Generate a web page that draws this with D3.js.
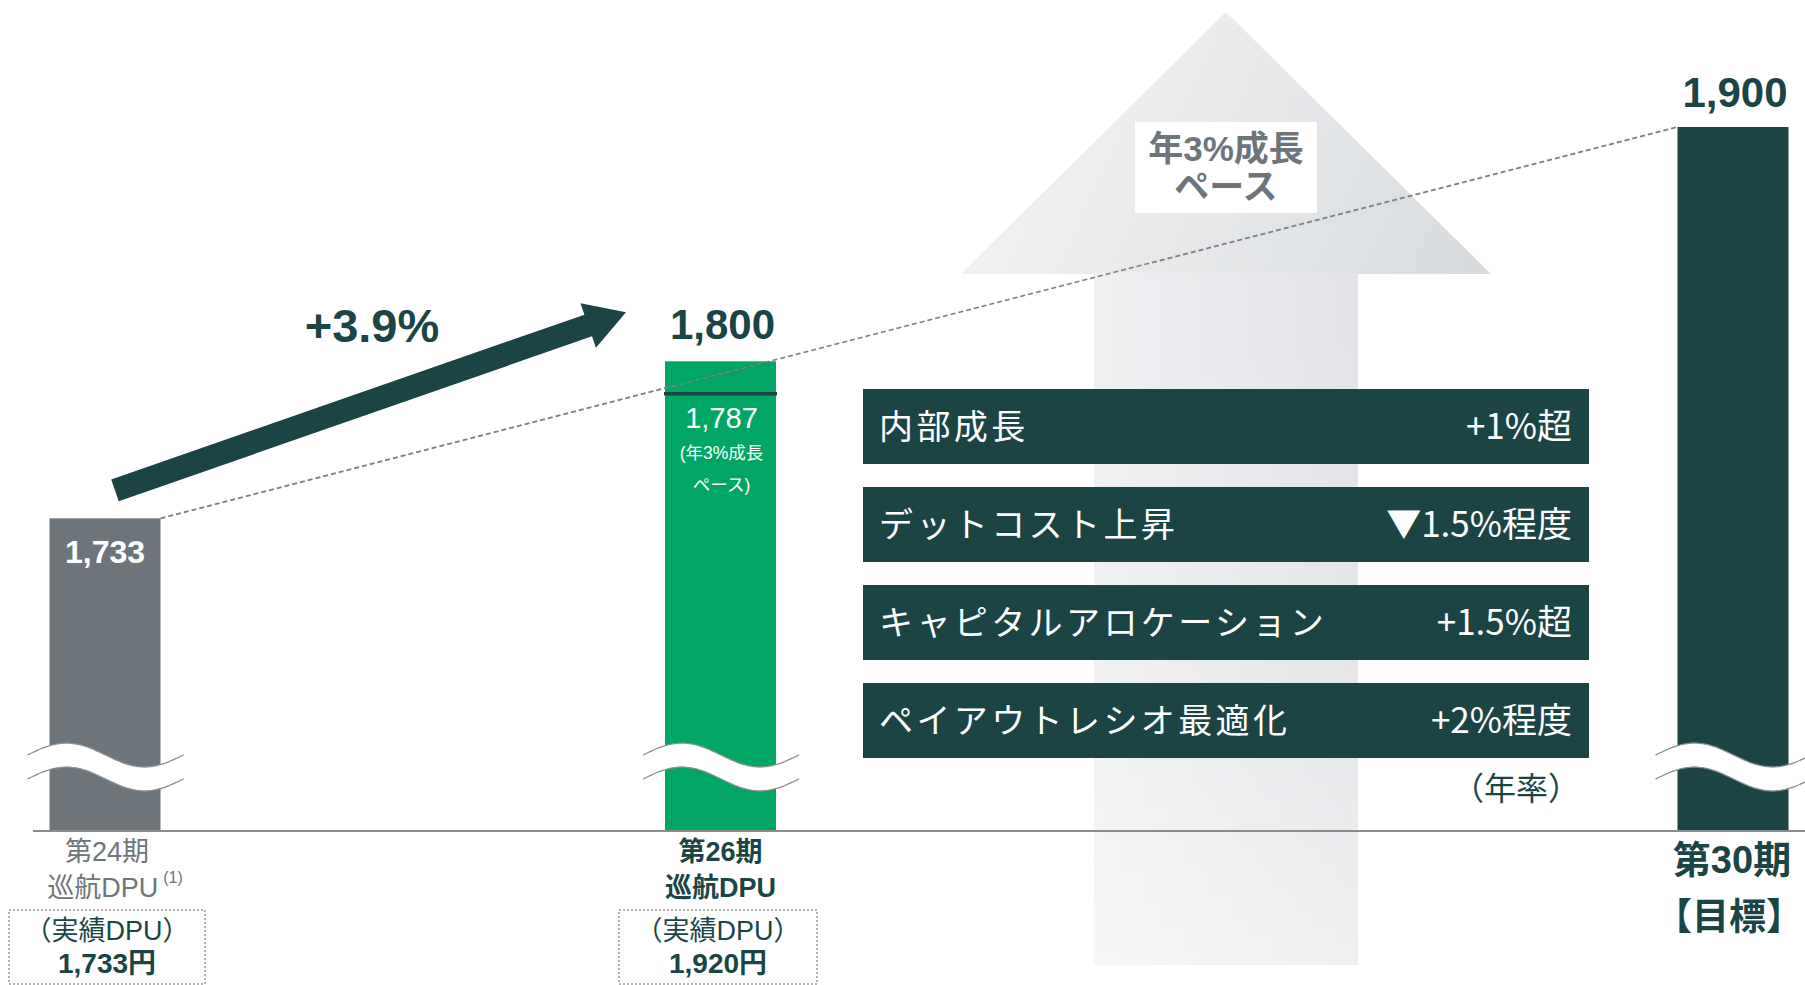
<!DOCTYPE html>
<html lang="ja">
<head>
<meta charset="utf-8">
<script src="https://cdn.jsdelivr.net/npm/d3@7/dist/d3.min.js"></script>
<style>
  html, body { margin: 0; padding: 0; background: #ffffff; }
  svg { display: block; }
</style>
</head>
<body>
<svg id="chart" width="1805" height="985"></svg>
<script>
// ---- data ----
const periods = ["第24期", "第26期", "第30期"];
const periodSubtitles = ["巡航DPU", "巡航DPU", "【目標】"];
const dpuValues = [1733, 1800, 1900];
const actualDpu = [1733, 1920];
const paceValue = 1787;
const paceLines = ["(年3%成長", "ペース)"];
const growthLabel = "+3.9%";
const paceBadge = ["年3%成長", "ペース"];
const driverNames = ["内部成長", "デットコスト上昇", "キャピタルアロケーション", "ペイアウトレシオ最適化"];
const driverRates = ["+1%超", "▼1.5%程度", "+1.5%超", "+2%程度"];
const rateNote = "（年率）";
const yDomain = [1600, 1900];

// ---- styles ----
const DARK = "#1b4545";
const GRAY_TEXT = "#6d757a";
const barFills = ["#6d757b", "#02a664", DARK];
const LATIN = "'Liberation Sans', Arial, 'Noto Sans CJK JP', sans-serif";
const CJK = "'Noto Sans CJK JP', 'Liberation Sans', sans-serif";

// ---- layout ----
const W = 1805, H = 985;
const baseY = 830, topY = 127;
const barW = 111;
const barCenters = [105, 720.5, 1733];

const svg = d3.select("#chart");
const y = d3.scaleLinear().domain(yDomain).range([baseY, topY]);
const x = d3.scaleOrdinal().domain(periods).range(barCenters);
const left = p => x(p) - barW / 2;
const right = p => x(p) + barW / 2;

const defs = svg.append("defs");

// gradient for the background growth arrow
const gHead = defs.append("linearGradient").attr("id", "arrowGrad")
  .attr("gradientUnits", "userSpaceOnUse")
  .attr("x1", 961).attr("y1", 60).attr("x2", 1491).attr("y2", 300);
gHead.append("stop").attr("offset", 0).attr("stop-color", "#f4f5f6");
gHead.append("stop").attr("offset", 1).attr("stop-color", "#d7dadd");

const gShaft = defs.append("linearGradient").attr("id", "shaftGrad")
  .attr("gradientUnits", "userSpaceOnUse")
  .attr("x1", 1094).attr("y1", 0).attr("x2", 1358).attr("y2", 0);
gShaft.append("stop").attr("offset", 0).attr("stop-color", "#eff0f2");
gShaft.append("stop").attr("offset", 1).attr("stop-color", "#e1e3e6");

const gFade = defs.append("linearGradient").attr("id", "shaftFade")
  .attr("x1", 0).attr("y1", 0).attr("x2", 0).attr("y2", 1);
gFade.append("stop").attr("offset", 0).attr("stop-color", "#ffffff").attr("stop-opacity", 0);
gFade.append("stop").attr("offset", 0.6).attr("stop-color", "#ffffff").attr("stop-opacity", 0.1);
gFade.append("stop").attr("offset", 1).attr("stop-color", "#ffffff").attr("stop-opacity", 0.45);

// ---- background "年3%成長" arrow ----
const upTip = [1226, 12], headBaseY = 274, headHalf = 265, shaftL = 1094, shaftR = 1358, shaftBottom = 965;
svg.append("path")
  .attr("d", `M${upTip[0]},${upTip[1]} L${upTip[0] + headHalf},${headBaseY} L${upTip[0] - headHalf},${headBaseY} Z`)
  .attr("fill", "url(#arrowGrad)");
svg.append("rect")
  .attr("x", shaftL).attr("y", headBaseY - 1)
  .attr("width", shaftR - shaftL).attr("height", shaftBottom - headBaseY + 1)
  .attr("fill", "url(#shaftGrad)");
svg.append("rect")
  .attr("x", shaftL).attr("y", headBaseY - 1)
  .attr("width", shaftR - shaftL).attr("height", shaftBottom - headBaseY + 1)
  .attr("fill", "url(#shaftFade)");

// badge
svg.append("rect").attr("x", 1135).attr("y", 122).attr("width", 182).attr("height", 91).attr("fill", "#ffffff");
svg.append("text")
  .attr("text-anchor", "middle")
  .attr("font-family", LATIN).attr("font-weight", 700).attr("font-size", 35)
  .attr("fill", GRAY_TEXT)
  .selectAll("tspan").data(paceBadge).join("tspan")
  .attr("x", upTip[0]).attr("y", (d, i) => 161 + i * 38)
  .text(d => d);

// ---- bars ----
svg.selectAll("rect.bar").data(periods).join("rect")
  .attr("class", "bar")
  .attr("x", d => left(d))
  .attr("y", (d, i) => y(dpuValues[i]))
  .attr("width", barW)
  .attr("height", (d, i) => baseY - y(dpuValues[i]))
  .attr("fill", (d, i) => barFills[i]);

// pace marker on the 第26期 bar
svg.append("line")
  .attr("x1", left(periods[1]) - 1).attr("x2", right(periods[1]) + 1)
  .attr("y1", y(paceValue) + 2).attr("y2", y(paceValue) + 2)
  .attr("stroke", DARK).attr("stroke-width", 3.5);

// axis baseline
svg.append("line")
  .attr("x1", 33).attr("x2", W).attr("y1", baseY + 1).attr("y2", baseY + 1)
  .attr("stroke", "#8c8c8c").attr("stroke-width", 2);

// ---- axis-break waves ----
const breakMid = 755, breakGap = 24, waveAmp = 12;
function waveCurve(p, offset) {
  const x0 = left(p) - 22, x1 = right(p) + 23;
  return d3.range(0, 61).map(k => {
    const t = k / 60;
    return [x0 + t * (x1 - x0), breakMid + offset - waveAmp * Math.sin(2 * Math.PI * t)];
  });
}
const lineGen = d3.line().curve(d3.curveBasis);
periods.forEach(p => {
  const up = waveCurve(p, 0);
  const lo = waveCurve(p, breakGap);
  const band = up.concat(lo.slice().reverse());
  svg.append("path").attr("d", d3.line()(band) + "Z").attr("fill", "#ffffff");
  [up, lo].forEach(c => {
    svg.append("path").attr("d", lineGen(c))
      .attr("fill", "none").attr("stroke", "#8a8f92").attr("stroke-width", 1.3);
  });
});

// ---- 3% growth pace dashed line ----
svg.append("line")
  .attr("x1", right(periods[0])).attr("y1", y(dpuValues[0]))
  .attr("x2", left(periods[2])).attr("y2", y(dpuValues[2]))
  .attr("stroke", "#7b7f82").attr("stroke-width", 1.7)
  .attr("stroke-dasharray", "5,3");

// ---- +3.9% arrow ----
const tail = [x(periods[0]) + 10, y(dpuValues[0]) - 28];
const tip = [left(periods[1]) - 39, y(dpuValues[1]) - 49];
(function drawArrow() {
  const dx = tip[0] - tail[0], dy = tip[1] - tail[1];
  const len = Math.hypot(dx, dy);
  const u = [dx / len, dy / len], n = [-u[1], u[0]];
  const sw = 11.5, hw = 23.5, hl = 40;
  const base = [tip[0] - u[0] * hl, tip[1] - u[1] * hl];
  const P = (pt, s) => [pt[0] + n[0] * s, pt[1] + n[1] * s];
  const pts = [P(tail, -sw), P(base, -sw), P(base, -hw), tip, P(base, hw), P(base, sw), P(tail, sw)];
  svg.append("path").attr("d", d3.line()(pts) + "Z").attr("fill", DARK);
})();
svg.append("text")
  .attr("x", 372).attr("y", 342)
  .attr("text-anchor", "middle")
  .attr("font-family", LATIN).attr("font-weight", 700).attr("font-size", 47)
  .attr("fill", DARK).text(growthLabel);

// ---- value labels ----
const fmt = d3.format(",");
svg.append("text")
  .attr("x", x(periods[0])).attr("y", y(dpuValues[0]) + 45)
  .attr("text-anchor", "middle")
  .attr("font-family", LATIN).attr("font-weight", 700).attr("font-size", 32)
  .attr("fill", "#ffffff").text(fmt(dpuValues[0]));
[1, 2].forEach(i => {
  svg.append("text")
    .attr("x", x(periods[i]) + 2).attr("y", y(dpuValues[i]) - (i === 1 ? 22 : 20))
    .attr("text-anchor", "middle")
    .attr("font-family", LATIN).attr("font-weight", 700).attr("font-size", 42)
    .attr("fill", DARK).text(fmt(dpuValues[i]));
});
svg.append("text")
  .attr("x", x(periods[1]) + 1).attr("y", y(paceValue) + 36)
  .attr("text-anchor", "middle")
  .attr("font-family", LATIN).attr("font-size", 29)
  .attr("fill", "#ffffff").text(fmt(paceValue));
svg.append("text")
  .attr("text-anchor", "middle")
  .attr("font-family", LATIN).attr("font-size", 17.5)
  .attr("fill", "#ffffff")
  .selectAll("tspan").data(paceLines).join("tspan")
  .attr("x", x(periods[1]) + 1).attr("y", (d, i) => y(paceValue) + 67 + i * 32)
  .text(d => d);

// ---- growth driver boxes ----
const boxX = 863, boxW = 726, boxH = 75, boxTop = 389, boxStep = 98;
const drivers = svg.selectAll("g.driver").data(driverNames).join("g")
  .attr("class", "driver")
  .attr("transform", (d, i) => `translate(${boxX},${boxTop + i * boxStep})`);
drivers.append("rect").attr("width", boxW).attr("height", boxH).attr("fill", DARK);
drivers.append("text")
  .attr("x", 16).attr("y", boxH / 2).attr("dy", "0.36em")
  .attr("font-family", CJK).attr("font-size", 34).attr("letter-spacing", 3.4)
  .attr("fill", "#ffffff").text(d => d);
drivers.append("text")
  .attr("x", boxW - 17).attr("y", boxH / 2).attr("dy", "0.36em")
  .attr("text-anchor", "end")
  .attr("font-family", CJK).attr("font-size", 35)
  .attr("fill", "#ffffff").text((d, i) => driverRates[i]);
svg.append("text")
  .attr("x", 1580).attr("y", 788).attr("dy", "0.36em")
  .attr("text-anchor", "end")
  .attr("font-family", CJK).attr("font-size", 32)
  .attr("fill", DARK).text(rateNote);

// ---- period labels ----
// 第24期 (actual, gray)
svg.append("text")
  .attr("x", x(periods[0]) + 2).attr("y", 851).attr("dy", "0.36em")
  .attr("text-anchor", "middle")
  .attr("font-family", LATIN).attr("font-size", 27)
  .attr("fill", GRAY_TEXT).text(periods[0]);
const sub0 = svg.append("text")
  .attr("x", x(periods[0]) + 10).attr("y", 887).attr("dy", "0.36em")
  .attr("text-anchor", "middle")
  .attr("font-family", LATIN).attr("font-size", 27)
  .attr("fill", GRAY_TEXT);
sub0.append("tspan").text(periodSubtitles[0]);
sub0.append("tspan").attr("font-size", 16).attr("dx", 5).attr("dy", "-0.85em").text("(1)");

// 第26期 (bold)
svg.append("text")
  .attr("x", x(periods[1])).attr("y", 851).attr("dy", "0.36em")
  .attr("text-anchor", "middle")
  .attr("font-family", LATIN).attr("font-weight", 700).attr("font-size", 27)
  .attr("fill", DARK).text(periods[1]);
svg.append("text")
  .attr("x", x(periods[1])).attr("y", 887).attr("dy", "0.36em")
  .attr("text-anchor", "middle")
  .attr("font-family", LATIN).attr("font-weight", 700).attr("font-size", 27)
  .attr("fill", DARK).text(periodSubtitles[1]);

// 第30期 target
svg.append("text")
  .attr("x", x(periods[2]) - 1).attr("y", 859).attr("dy", "0.36em")
  .attr("text-anchor", "middle")
  .attr("font-family", LATIN).attr("font-weight", 700).attr("font-size", 38)
  .attr("fill", DARK).text(periods[2]);
svg.append("text")
  .attr("x", x(periods[2]) - 4).attr("y", 917).attr("dy", "0.36em")
  .attr("text-anchor", "middle")
  .attr("font-family", CJK).attr("font-weight", 700).attr("font-size", 37)
  .attr("fill", DARK).text(periodSubtitles[2]);

// actual DPU dotted boxes
const actualBoxes = [{ x0: 9, x1: 205 }, { x0: 619, x1: 817 }];
actualDpu.forEach((v, i) => {
  const b = actualBoxes[i];
  svg.append("rect")
    .attr("x", b.x0).attr("y", 910).attr("width", b.x1 - b.x0).attr("height", 74)
    .attr("fill", "none").attr("stroke", "#9a9a9a").attr("stroke-width", 1.5)
    .attr("stroke-dasharray", "2,2");
  const cx = (b.x0 + b.x1) / 2;
  svg.append("text")
    .attr("x", cx).attr("y", 930).attr("dy", "0.36em")
    .attr("text-anchor", "middle")
    .attr("font-family", LATIN).attr("font-size", 27)
    .attr("fill", DARK).text("（実績DPU）");
  svg.append("text")
    .attr("x", cx).attr("y", 963).attr("dy", "0.36em")
    .attr("text-anchor", "middle")
    .attr("font-family", LATIN).attr("font-weight", 700).attr("font-size", 28)
    .attr("fill", DARK).text(fmt(v) + "円");
});
</script>
</body>
</html>
